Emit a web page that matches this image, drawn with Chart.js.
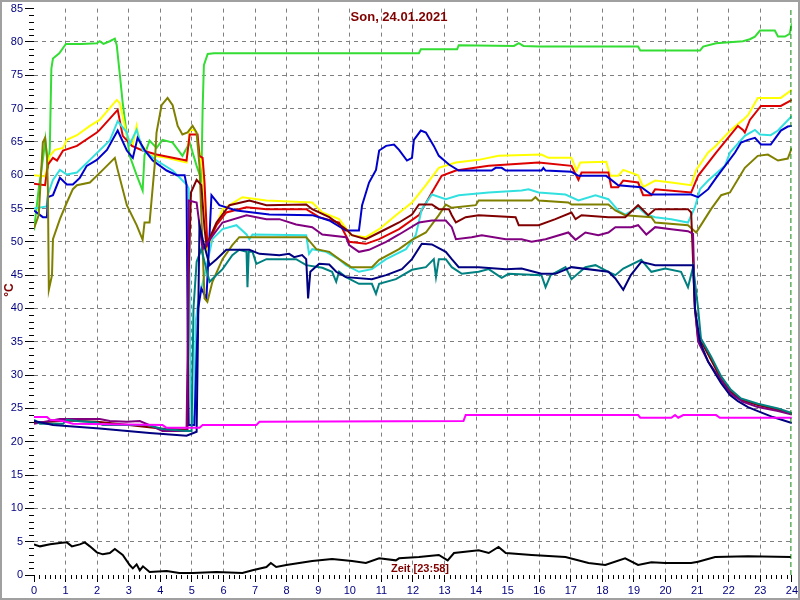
<!DOCTYPE html>
<html><head><meta charset="utf-8">
<script src="https://cdn.jsdelivr.net/npm/chart.js@4/dist/chart.umd.min.js"></script>
<style>html,body{margin:0;padding:0;background:#fff}#wrap{width:800px;height:600px}</style>
</head><body><div id="wrap"><canvas id="c" width="800" height="600"></canvas></div>
<script>
const titleText = "Son, 24.01.2021";
const yTitle = "°C";
const xTitle = "Zeit [23:58]";
const nowHour = 23.97;
const xTicks = [0,24,1];
const yTicks = [0,85,5];

const green = [[0,51.7],[0.15,58],[0.3,63],[0.36,65.3],[0.44,61],[0.5,64],[0.55,76],[0.6,77.5],[0.8,78.3],[1.01,79.7],[1.5,79.7],[1.99,79.8],[2.08,80.1],[2.2,79.7],[2.4,80.1],[2.56,80.5],[2.62,79.5],[2.72,75],[2.81,70.8],[2.94,66],[3.03,62.9],[3.25,60],[3.44,57.7],[3.5,63],[3.66,65.2],[3.88,64.1],[4.07,65.3],[4.39,64.9],[4.7,62.9],[4.93,64.9],[5.15,61.4],[5.3,59.3],[5.34,70],[5.38,76.5],[5.5,78.2],[5.7,78.3],[12.19,78.3],[12.25,78.9],[13.4,78.9],[13.45,79.5],[15.2,79.4],[15.35,79.8],[15.5,79.4],[16,79.3],[19.13,79.3],[19.2,78.7],[21.09,78.7],[21.19,79.3],[21.6,79.8],[22.45,80.1],[22.67,80.4],[22.83,80.8],[22.99,81.7],[23.46,81.7],[23.56,80.8],[23.78,80.8],[23.93,81.2],[24,82.8]];
const yellow = [[0,60],[0.35,59.8],[0.5,62.9],[0.66,63.8],[0.92,64.1],[1.04,65.3],[1.36,66],[1.77,67.4],[2.08,68.3],[2.62,71.3],[2.72,70.8],[2.94,65.9],[3.13,64.6],[3.25,67.4],[3.35,64.9],[3.66,63],[4.2,62.6],[4.83,61.9],[4.93,66.8],[5.08,66.8],[5.15,66],[5.34,60.8],[5.49,48.9],[5.97,54.9],[6.6,56.7],[7.36,56.2],[8.81,55.9],[9.13,54.4],[9.66,53.4],[10.04,51],[10.51,50.7],[10.93,51.9],[11.46,54],[11.97,55.9],[12.41,58.5],[12.82,61.1],[13.36,61.9],[14.08,62.3],[14.71,62.9],[16.07,63.1],[16.29,62.6],[17.02,62.6],[17.18,60.7],[17.3,61.9],[18.12,62],[18.25,59.9],[18.5,59.9],[18.66,60.8],[19.13,60],[19.29,58.2],[19.67,59.2],[20.18,58.9],[20.81,58.5],[20.97,60.8],[21.35,63.4],[21.57,64.3],[22.07,66.8],[22.45,68.3],[22.61,69],[22.92,71.6],[23.65,71.6],[24,72.8]];
const red = [[0,58.7],[0.35,58.5],[0.44,61.6],[0.6,62.6],[0.73,62.2],[0.92,63.7],[1.36,64.4],[1.99,66.4],[2.08,66.8],[2.65,69.8],[2.81,65.9],[3.1,64.4],[3.44,63.7],[3.88,63.1],[4.83,62.2],[4.93,66.1],[5.18,66.1],[5.24,62.9],[5.34,62.6],[5.4,58.9],[5.49,49.5],[5.78,52.5],[6.09,54.4],[6.73,55.2],[7.36,54.9],[8.62,54.9],[9.03,53.7],[9.66,52.9],[9.98,50],[10.51,49.7],[10.93,50.4],[11.56,51.9],[12.19,54],[12.6,57.4],[12.91,59.9],[13.36,60.7],[14.4,61.4],[15.98,61.9],[17.02,61.4],[17.24,59.3],[17.34,60.4],[18.19,60.4],[18.28,58.2],[18.5,58.2],[18.66,59.2],[19.13,58.9],[19.29,57],[19.55,57],[19.67,57.9],[20.81,57.4],[21.03,59.9],[21.6,63.4],[22.29,67.4],[22.45,66.8],[22.51,66.4],[22.67,68.3],[23.02,70.4],[23.65,70.4],[24,71.3]];
const cyan = [[0,55],[0.4,55.3],[0.44,57.1],[0.6,59.3],[0.82,60.8],[1.04,60.1],[1.36,60.4],[1.77,62.3],[2.4,65.2],[2.65,68.1],[2.94,66.4],[3.03,64.6],[3.25,66.8],[3.44,63.8],[3.88,62.2],[4.39,60.7],[4.83,58.6],[4.9,58],[4.95,30],[5.0,22.5],[5.08,24],[5.12,38],[5.2,41],[5.4,45],[5.65,50.4],[5.97,51.9],[6.41,52.5],[6.73,51.1],[6.82,50.4],[6.92,51.1],[8.62,51],[8.71,48.2],[8.81,48.9],[9.25,48.5],[9.66,47.4],[9.88,46.5],[10.29,45.5],[10.7,45.9],[11.15,47.4],[11.78,48.9],[12.09,51],[12.28,54.9],[12.6,57.1],[13.04,56.4],[13.45,57],[14.4,57.4],[15.44,57.7],[15.66,57.9],[15.98,57.4],[16.83,57.1],[17.24,56.2],[17.78,57],[18.19,56.4],[18.5,54.7],[18.72,54.1],[19.13,55.2],[19.39,54.1],[19.67,53.7],[20.18,53.4],[20.71,52.9],[20.93,55.2],[21.09,57.9],[21.35,59.2],[21.88,61.4],[22.04,63.4],[22.51,65.9],[22.83,66.8],[22.99,66.1],[23.33,66],[23.56,66.7],[23.78,67.8],[24,68.9]];
const blue = [[0,54.7],[0.28,53.7],[0.41,53.7],[0.44,56.7],[0.6,57],[0.82,59.6],[1.04,58.6],[1.23,58.6],[1.45,59.6],[1.67,61.4],[1.99,62.3],[2.31,63.8],[2.65,66.7],[2.94,63.7],[3.13,62.6],[3.28,65.6],[3.5,63.8],[3.76,62.2],[4.2,60.7],[4.52,60],[4.77,60],[4.83,58.5],[4.87,35],[4.9,22.5],[5.08,22.5],[5.2,40],[5.3,43],[5.46,41.5],[5.62,57],[5.87,55.5],[6.41,54.7],[7.45,54.1],[8.81,54],[9.35,53.2],[9.88,51.7],[10.29,51.7],[10.39,55.5],[10.61,58.9],[10.83,60.8],[10.93,63.7],[11.15,64.4],[11.4,64.6],[11.56,63.8],[11.81,62.2],[11.97,62.6],[12.03,65.3],[12.25,66.7],[12.41,66.4],[12.66,64.4],[12.82,62.9],[13.14,61.6],[13.45,60.7],[14.49,60.7],[14.62,61.1],[14.81,61.1],[14.94,60.7],[16.07,60.7],[16.13,61.1],[16.2,60.7],[17.02,60.5],[17.24,59.9],[18.12,59.9],[18.5,58.5],[19.23,58.2],[19.55,57.1],[20.81,57.1],[21.03,56.7],[21.35,57.9],[21.6,59.6],[22.2,63.4],[22.39,64.9],[22.61,65.3],[22.83,65.6],[23.02,64.6],[23.33,64.6],[23.65,66.7],[23.87,67.3],[24,67.4]];
const olive = [[0,52],[0.15,54],[0.28,64.9],[0.35,65.6],[0.41,63],[0.44,57.9],[0.47,42.8],[0.57,45],[0.6,50.4],[0.82,53.4],[1.04,55.9],[1.23,57.9],[1.36,58.5],[1.77,58.9],[2.18,60.8],[2.56,62.6],[2.65,60.8],[2.94,55.5],[3.25,52.5],[3.44,50.3],[3.5,52.9],[3.66,52.9],[3.82,61.4],[3.88,66.4],[4.04,70.5],[4.23,71.6],[4.39,70.5],[4.55,67.4],[4.7,66.1],[4.86,66.4],[5.02,67.4],[5.15,66.4],[5.24,61.4],[5.3,54],[5.4,41.5],[5.49,41],[5.65,44],[5.97,47.4],[6.28,49.5],[6.5,50.7],[8.62,50.7],[8.94,48.9],[9.35,48.5],[9.66,47.4],[10.04,46.2],[10.7,46.2],[10.93,47.3],[11.56,48.9],[11.97,50.3],[12.41,51.4],[12.82,54],[13.04,55.6],[13.23,55.1],[13.99,55.5],[14.08,56.2],[15.76,56.2],[15.88,56.7],[15.98,56.2],[16.92,55.9],[17.02,55.6],[18.19,55.6],[18.41,54.7],[18.72,54],[19.55,53.7],[19.67,52.9],[20.71,52.5],[20.97,51.4],[21.12,52.5],[21.44,54.9],[21.76,57],[22.04,57.4],[22.51,61.1],[22.92,62.9],[23.24,63.1],[23.56,62.2],[23.87,62.5],[24,64.1]];
const maroon = [[0,22.8],[1,23.2],[2,23],[3,22.5],[4,22],[4.86,21.8],[4.9,45],[4.97,57.4],[5.15,59.3],[5.3,58.5],[5.4,52],[5.46,49.5],[5.78,52.9],[6.19,55.5],[6.82,56.2],[7.36,55.5],[8.62,55.6],[8.81,54.9],[9.35,53.7],[9.88,51.9],[10.07,51],[10.51,50.4],[10.93,51.4],[11.56,52.9],[11.97,54.1],[12.19,55.6],[12.6,55.6],[12.82,54.9],[13.14,54.9],[13.23,54],[13.36,52.9],[13.67,53.7],[14.08,54],[15.25,53.7],[15.35,52.5],[15.98,52.5],[16.51,53.4],[17.02,54.4],[17.15,53.4],[17.34,54],[18.19,53.7],[18.72,53.7],[19.13,55.5],[19.45,54],[19.67,54.9],[20.71,54.9],[20.81,54.4],[20.93,40],[21.03,35.5],[21.19,34.5],[21.44,32.3],[21.76,29.4],[22.07,27.5],[22.39,26.3],[22.92,25.5],[23.56,24.8],[24,24.2]];
const purple = [[0,22.7],[0.82,23.4],[2.08,23.4],[2.4,23.1],[2.94,23],[3.35,23.1],[3.66,22.5],[4.07,21.6],[4.83,21.6],[4.87,35],[4.9,56.2],[5.15,55.9],[5.34,48.9],[5.97,52.9],[6.73,54],[7.36,53.4],[7.77,53.4],[8.3,52.6],[8.81,52.2],[9.13,51.1],[9.88,50.7],[9.98,49.5],[10.29,48.5],[10.61,48.8],[11.15,50],[11.56,51.1],[12.19,52.9],[12.6,53.2],[13.04,53.2],[13.23,52.2],[13.36,50.4],[13.86,50.7],[14.18,51],[14.94,50.4],[15.44,50.4],[15.76,50],[16.2,50.4],[16.92,51.4],[17.15,50.3],[17.46,51.4],[17.87,51],[18.19,51.4],[18.41,52.2],[18.91,52.2],[19.13,52.5],[19.39,51.1],[19.67,52.2],[20.18,51.9],[20.71,51.6],[20.87,51.2],[20.93,40],[21.03,35],[21.35,32],[21.76,29.2],[22.07,27.2],[22.45,26],[22.92,25.2],[23.56,24.6],[24,24.1]];
const navy = [[0,23.1],[0.6,22.5],[2.08,22],[3.66,21.3],[4.83,20.9],[5.15,21.5],[5.24,52.5],[5.34,50.4],[5.56,46.5],[5.78,47.4],[6.09,48.8],[6.82,48.8],[7.14,48.2],[7.77,48],[8.08,48.2],[8.24,47.7],[8.49,48],[8.62,47.4],[8.68,41.5],[8.75,45.5],[9.03,46.7],[9.35,46.6],[9.57,45.5],[9.88,44.7],[10.7,44.4],[11.15,45],[11.65,45.9],[11.97,47.4],[12.28,49.7],[12.6,49.6],[13.04,48.5],[13.23,47.4],[13.45,46.2],[14.08,46.2],[14.94,45.9],[15.44,46],[16.07,45.2],[16.51,45.2],[17.02,46.2],[18.19,45.5],[18.41,44.5],[18.66,42.8],[18.9,45],[19.23,47],[19.67,46.5],[20,46.5],[20.81,46.5],[20.87,46.5],[20.93,40],[21.09,35],[21.35,32],[21.6,30],[21.76,28.8],[22.04,27],[22.29,26.1],[22.61,25.2],[22.92,24.6],[23.4,23.7],[24,22.8]];
const teal = [[0,23.3],[0.19,22.7],[0.92,22.7],[1.04,23.3],[1.36,23.1],[1.99,22.9],[2.18,22.5],[3.6,22.5],[4.07,21.9],[4.83,21.6],[4.99,21.6],[5.05,40],[5.15,47],[5.3,48.9],[5.56,44],[5.97,45.9],[6.28,48],[6.5,48.8],[6.73,48.5],[6.76,43.2],[6.8,48.5],[6.92,48.5],[7.04,46.7],[7.36,47.4],[7.77,47.4],[8.3,47.4],[8.62,46.5],[9.13,46.1],[9.44,45.5],[9.57,44],[9.66,45.5],[9.88,44.7],[10.29,43.7],[10.7,43.7],[10.83,42.2],[10.93,43.7],[11.46,44.4],[11.97,45.8],[12.41,46.2],[12.66,47.4],[12.73,44.7],[12.82,47.4],[13.04,47.4],[13.23,46.2],[13.55,45.2],[14.08,45.5],[14.4,45.9],[14.62,45.2],[14.81,44.6],[15.03,45.2],[16.07,45],[16.2,43.2],[16.36,45],[16.83,46.2],[17.02,44.4],[17.46,46.2],[17.78,46.5],[18.19,45.5],[18.41,45],[18.66,46],[19.23,47.3],[19.55,45.5],[19.99,46],[20.49,45.5],[20.71,43.2],[20.87,46.2],[20.93,44],[21.03,40],[21.12,35.5],[21.44,32.8],[21.76,29.8],[22.07,27.8],[22.39,26.5],[22.92,25.7],[23.56,25],[24,24.3]];
const magenta = [[0,23.7],[0.41,23.7],[0.51,23.3],[0.92,23.1],[1.23,22.7],[4.07,22.5],[4.2,22.1],[5.24,22.1],[5.34,22.5],[7.04,22.5],[7.14,23],[13.6,23.1],[13.67,24],[19.13,24],[19.2,23.6],[20.18,23.6],[20.3,24],[20.4,23.6],[20.56,24],[21.6,24],[21.72,23.6],[24,23.6]];
const black = [[0,4.6],[0.19,4.3],[0.51,4.6],[0.82,4.8],[1.04,4.9],[1.2,4.3],[1.45,4.6],[1.61,4.9],[1.77,4.3],[1.99,3.4],[2.18,3.1],[2.4,3.3],[2.56,3.9],[2.81,3],[3.03,1.5],[3.13,1],[3.25,1.6],[3.35,0.7],[3.45,1.3],[3.66,0.45],[4.2,0.6],[4.6,0.3],[5.02,0.3],[5.78,0.45],[6.6,0.3],[6.92,0.7],[7.36,1.2],[7.5,1.8],[7.67,1.2],[7.99,1.5],[8.4,1.8],[8.81,2.1],[9.44,2.4],[10.07,2.1],[10.51,1.8],[10.93,2.5],[11.46,2.2],[11.56,2.5],[12.19,2.7],[12.82,3.0],[13.1,2.2],[13.3,3.3],[14.08,3.7],[14.4,3.3],[14.71,4.2],[14.94,3.3],[15.76,3.0],[16.83,2.7],[17.56,1.8],[18.09,1.5],[18.72,2.5],[19.13,1.5],[19.55,1.9],[19.99,1.8],[20.81,1.8],[21.03,2.0],[21.57,2.7],[22.61,2.8],[23.97,2.7]];

const series = [
  {d: black, c: '#000000'},
  {d: magenta, c: '#ff00ff'},
  {d: navy, c: '#000080'},
  {d: teal, c: '#008080'},
  {d: purple, c: '#800080'},
  {d: maroon, c: '#800000'},
  {d: olive, c: '#808000'},
  {d: blue, c: '#0000cc'},
  {d: cyan, c: '#33e0e0'},
  {d: red, c: '#dd0000'},
  {d: yellow, c: '#ffff00'},
  {d: green, c: '#33dd33'}
];

const datasets = series.map(s => ({
  data: s.d.map(p => ({x: p[0], y: p[1]})),
  borderColor: s.c, borderWidth: 2, pointRadius: 0, tension: 0, fill: false
}));
datasets.unshift({
  data: [{x: nowHour, y: yTicks[0]}, {x: nowHour, y: yTicks[1]}],
  borderColor: '#008000', borderWidth: 1, borderDash: [5, 3], pointRadius: 0
});

const deco = {
  id: 'deco',
  beforeDraw(chart) {
    const ctx = chart.ctx;
    ctx.save();
    ctx.fillStyle = '#fff'; ctx.fillRect(0, 0, 800, 600);
    ctx.restore();
  },
  afterDraw(chart) {
    const {ctx, scales: {x, y}} = chart;
    ctx.save();
    ctx.strokeStyle = '#000'; ctx.lineWidth = 1;
    ctx.beginPath();
    for (let v = yTicks[0]; v <= yTicks[1]; v++) {
      if (v % yTicks[2] === 0) continue;
      const py = Math.round(y.getPixelForValue(v)) + 0.5;
      ctx.moveTo(x.left - 5, py); ctx.lineTo(x.left, py);
    }
    for (let m = 0; m <= 144; m++) {
      if (m % 6 === 0) continue;
      const px = Math.round(x.getPixelForValue(m / 6)) + 0.5;
      ctx.moveTo(px, y.bottom); ctx.lineTo(px, y.bottom + 4);
    }
    ctx.stroke();
    // frame
    ctx.strokeStyle = '#a0a0a0'; ctx.lineWidth = 2;
    ctx.strokeRect(1, 1, 798, 598);
    ctx.fillStyle = '#800000';
    ctx.font = 'bold 13px Arial';
    ctx.textAlign = 'center'; ctx.textBaseline = 'middle';
    ctx.fillText(titleText, 399, 17);
    ctx.font = 'bold 11px Arial';
    ctx.fillText(xTitle, 420, 569);
    ctx.translate(10, 290); ctx.rotate(-Math.PI / 2);
    ctx.font = 'bold 12px Arial';
    ctx.fillText(yTitle, 0, 0);
    ctx.restore();
  }
};

new Chart(document.getElementById('c'), {
  type: 'line',
  data: {datasets},
  options: {
    responsive: false, animation: false,
    layout: {padding: {top: 5, right: 6, left: 0, bottom: 0}},
    plugins: {legend: {display: false}, tooltip: {enabled: false}, title: {display: false}},
    scales: {
      x: {
        type: 'linear', min: xTicks[0], max: xTicks[1],
        afterFit: s => { s.height = 25; },
        ticks: {stepSize: xTicks[2], color: '#000080', font: {family: 'Arial', size: 11}, padding: 2, maxRotation: 0, autoSkip: false},
        border: {display: false, dash: [4, 4]},
        grid: {
          color: c => (c.tick && (c.tick.value === 0 || c.tick.value === 24)) ? 'rgba(0,0,0,0)' : '#808080',
          tickColor: '#000', tickLength: 7, tickBorderDash: [0, 0], lineWidth: 1
        }
      },
      y: {
        min: yTicks[0], max: yTicks[1],
        afterFit: s => { s.width = 34; },
        ticks: {stepSize: yTicks[2], color: '#000080', font: {family: 'Arial', size: 11}, padding: 2},
        border: {display: false, dash: [4, 4]},
        grid: {
          color: c => (c.tick && (c.tick.value === 0 || c.tick.value === 85)) ? 'rgba(0,0,0,0)' : '#808080',
          tickColor: '#000', tickLength: 9, tickBorderDash: [0, 0], lineWidth: 1
        }
      }
    }
  },
  plugins: [deco]
});
</script></body></html>
